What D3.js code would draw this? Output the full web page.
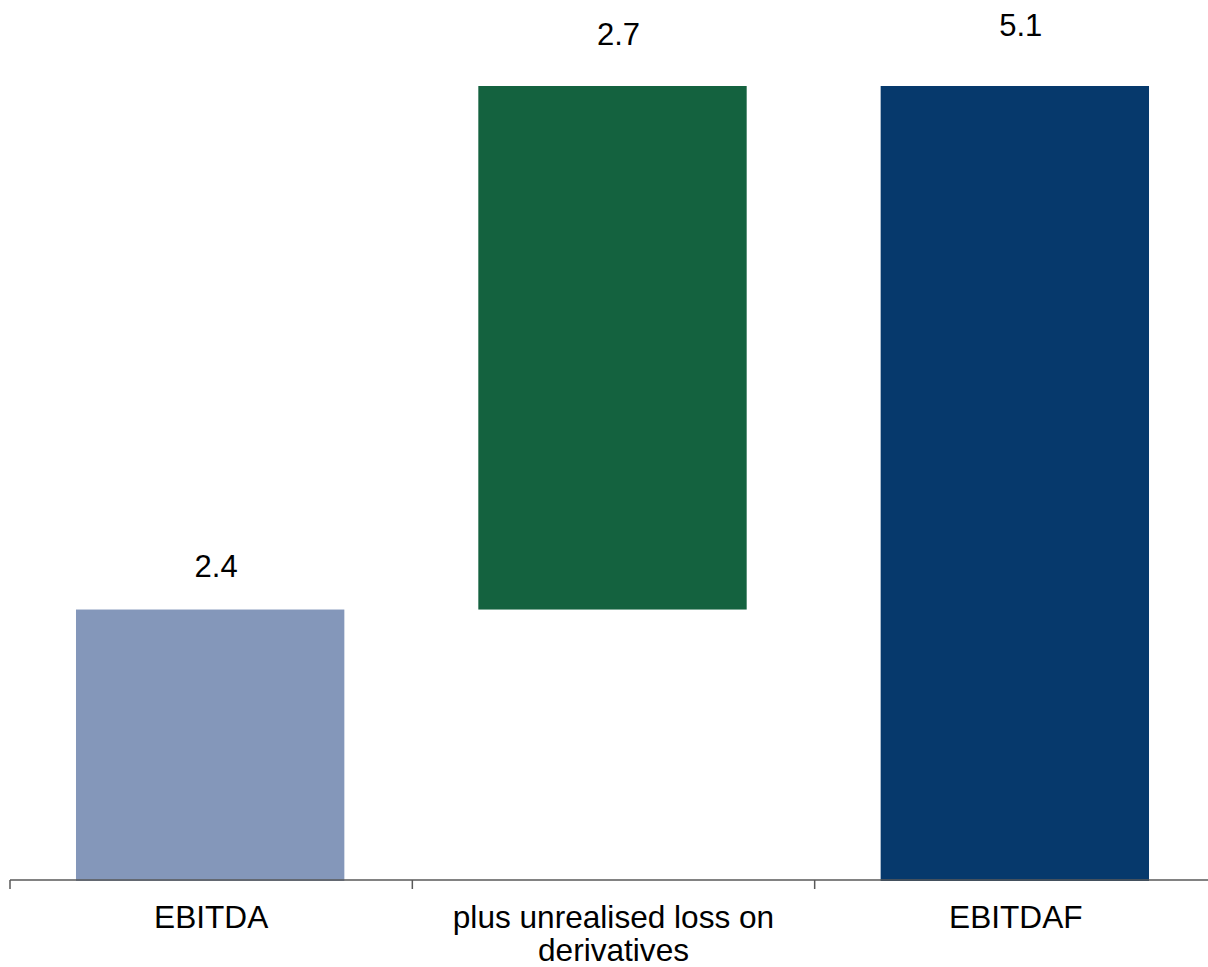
<!DOCTYPE html>
<html>
<head>
<meta charset="utf-8">
<script src="https://cdn.jsdelivr.net/npm/d3@7"></script>
<style>
  html, body { margin: 0; padding: 0; background: #fff; }
  svg { display: block; font-family: "Liberation Sans", Arial, sans-serif; }
</style>
</head>
<body>
<svg id="chart" width="1208" height="967"></svg>
<script>
// Data
const categories = ["EBITDA", "plus unrealised loss on derivatives", "EBITDAF"];
const values = [2.4, 2.7, 5.1];
const kinds = ["total", "step", "total"];
const colors = ["#8497ba", "#14623f", "#06396c"];
const axisFloor = 1.0;

// Build waterfall segments
let running = 0;
const bars = categories.map((c, i) => {
  let start, end;
  if (kinds[i] === "total") { start = axisFloor; end = values[i]; running = values[i]; }
  else { start = running; end = running + values[i]; running = end; }
  return { name: c, value: values[i], start, end, color: colors[i] };
});

const svg = d3.select("#chart");
const baseY = 880;

const x = d3.scaleBand()
  .domain(categories)
  .range([10, 1217])
  .paddingInner(0.333)
  .paddingOuter(0.1665);

const y = d3.scaleLinear()
  .domain([axisFloor, d3.max(bars, d => d.end)])
  .range([baseY + 1, 86]);

// bars
svg.selectAll(".bar")
  .data(bars)
  .enter()
  .append("rect")
  .attr("class", "bar")
  .attr("x", d => x(d.name) - 1)
  .attr("width", x.bandwidth())
  .attr("y", d => y(Math.max(d.start, d.end)))
  .attr("height", d => Math.abs(y(d.start) - y(d.end)))
  .attr("fill", d => d.color);

// value labels
const labelGap = [33, 41, 50];
svg.selectAll(".val")
  .data(bars)
  .enter()
  .append("text")
  .attr("class", "val")
  .attr("x", d => x(d.name) + x.bandwidth() / 2 + 5)
  .attr("y", (d, i) => y(Math.max(d.start, d.end)) - labelGap[i])
  .attr("text-anchor", "middle")
  .attr("font-size", 31)
  .attr("fill", "#000")
  .text(d => d.value.toFixed(1));

// x axis
const step = x.step();
const axis = svg.append("g").attr("class", "x-axis");
axis.append("line")
  .attr("x1", 10).attr("x2", 1208)
  .attr("y1", baseY).attr("y2", baseY)
  .attr("stroke", "#595959")
  .attr("stroke-width", 1.5);

const tickXs = d3.range(categories.length + 1).map(i => x.range()[0] + i * step);
axis.selectAll(".tick")
  .data(tickXs)
  .enter()
  .append("line")
  .attr("class", "tick")
  .attr("x1", d => d).attr("x2", d => d)
  .attr("y1", baseY).attr("y2", baseY + 9)
  .attr("stroke", "#595959")
  .attr("stroke-width", 1.5);

// category labels with wrapping
function wrap(textSel, width) {
  textSel.each(function() {
    const text = d3.select(this);
    const words = text.text().split(/\s+/);
    const xPos = text.attr("x");
    text.text(null);
    let line = [];
    let tspan = text.append("tspan").attr("x", xPos).attr("dy", 0);
    words.forEach(w => {
      line.push(w);
      tspan.text(line.join(" "));
      if (tspan.node().getComputedTextLength() > width && line.length > 1) {
        line.pop();
        tspan.text(line.join(" "));
        line = [w];
        tspan = text.append("tspan").attr("x", xPos).attr("dy", 33).text(w);
      }
    });
  });
}

axis.selectAll(".cat")
  .data(categories)
  .enter()
  .append("text")
  .attr("class", "cat")
  .attr("x", d => x(d) + x.bandwidth() / 2)
  .attr("y", 928)
  .attr("text-anchor", "middle")
  .attr("font-size", 31.6)
  .attr("fill", "#000")
  .text(d => d)
  .call(wrap, 370);
</script>
</body>
</html>
